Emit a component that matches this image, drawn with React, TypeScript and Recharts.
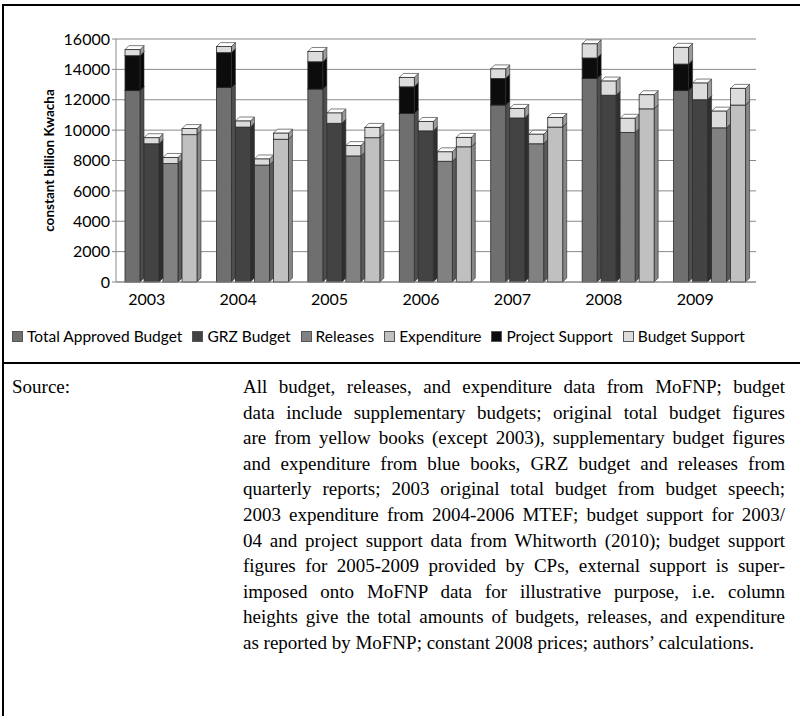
import { BarChart, Bar, XAxis, YAxis, CartesianGrid, Legend } from "recharts"

const years = ["2003", "2004", "2005", "2006", "2007", "2008", "2009"]
const totalApproved = [12600, 12800, 12700, 11100, 11650, 13400, 12600]
const grzBudget = [9100, 10200, 10450, 9950, 10800, 12300, 12000]
const releases = [7800, 7700, 8300, 7950, 9100, 9850, 10150]
const expenditure = [9700, 9400, 9500, 8900, 10200, 11400, 11650]
const projectSupport = [2300, 2300, 1800, 1750, 1750, 1350, 1750]
const budgetSupport = [400, 400, 680, 620, 630, 930, 1100]
const yTicks = [0, 2000, 4000, 6000, 8000, 10000, 12000, 14000, 16000]

const sourceLines = [
  "All budget, releases, and expenditure data from MoFNP; budget",
  "data include supplementary budgets; original total budget figures",
  "are from yellow books (except 2003), supplementary budget figures",
  "and expenditure from blue books, GRZ budget and releases from",
  "quarterly reports; 2003 original total budget from budget speech;",
  "2003 expenditure from 2004-2006 MTEF; budget support for 2003/",
  "04 and project support data from Whitworth (2010); budget support",
  "figures for 2005-2009 provided by CPs, external support is super-",
  "imposed onto MoFNP data for illustrative purpose, i.e. column",
  "heights give the total amounts of budgets, releases, and expenditure",
  "as reported by MoFNP; constant 2008 prices; authors\u2019 calculations.",
]

const COLORS = {
  tab: "#6f6f6f",
  grz: "#434343",
  rel: "#818181",
  exp: "#c0c0c0",
  ps: "#0c0c0c",
  bs: "#dcdcdc",
}

const legendItems = [
  { name: "Total Approved Budget", color: COLORS.tab },
  { name: "GRZ Budget", color: COLORS.grz },
  { name: "Releases", color: COLORS.rel },
  { name: "Expenditure", color: COLORS.exp },
  { name: "Project Support", color: COLORS.ps },
  { name: "Budget Support", color: COLORS.bs },
]

const data = years.map((year, i) => ({
  year,
  tab: totalApproved[i],
  ps: projectSupport[i],
  bsA: budgetSupport[i],
  grz: grzBudget[i],
  bsB: budgetSupport[i],
  rel: releases[i],
  bsC: budgetSupport[i],
  exp: expenditure[i],
  bsD: budgetSupport[i],
}))

const DEPTH = 4

function shade(hex: string, f: number) {
  const n = parseInt(hex.slice(1), 16)
  const c = [(n >> 16) & 255, (n >> 8) & 255, n & 255].map((v) =>
    Math.max(0, Math.min(255, Math.round(v * f)))
  )
  return `rgb(${c[0]},${c[1]},${c[2]})`
}

// fake Excel-style 3D column: front face + top + right side
function Bar3D(props: any) {
  const { x, y, width, height, fill } = props
  if (!height || height <= 0) return null
  const d = DEPTH
  return (
    <g>
      <polygon
        points={`${x + width},${y} ${x + width + d},${y - d} ${x + width + d},${y + height - d} ${x + width},${y + height}`}
        fill={shade(fill, 0.7)}
        stroke="#2b2b2b"
        strokeWidth={0.6}
      />
      <polygon
        points={`${x},${y} ${x + d},${y - d} ${x + width + d},${y - d} ${x + width},${y}`}
        fill={shade(fill, 1.15)}
        stroke="#2b2b2b"
        strokeWidth={0.6}
      />
      <rect x={x} y={y} width={width} height={height} fill={fill} stroke="#2b2b2b" strokeWidth={0.8} />
    </g>
  )
}

function LegendContent() {
  return (
    <div
      style={{
        display: "flex",
        alignItems: "center",
        height: 48,
        paddingLeft: 12,
        fontFamily: "Lato",
        fontSize: 15.5,
        color: "#000",
        whiteSpace: "nowrap",
      }}
    >
      {legendItems.map((item) => (
        <span key={item.name} style={{ display: "flex", alignItems: "center", marginRight: 10 }}>
          <span
            style={{
              display: "inline-block",
              width: 9,
              height: 9,
              background: item.color,
              border: "1px solid #555",
              marginRight: 4,
            }}
          />
          {item.name}
        </span>
      ))}
    </div>
  )
}

function YLabel(props: any) {
  const { viewBox } = props
  const cy = viewBox.y + viewBox.height / 2
  return (
    <text
      x={49}
      y={cy}
      transform={`rotate(-90, 49, ${cy})`}
      textAnchor="middle"
      dominantBaseline="central"
      fontFamily="Lato"
      fontWeight="bold"
      fontSize={13.5}
      fill="#000"
    >
      constant billion Kwacha
    </text>
  )
}

export default function App() {
  return (
    <div style={{ position: "absolute", left: 0, top: 0, width: 800, height: 716, background: "#fff" }}>
      <div style={{ position: "absolute", left: 2, top: 4, width: 798, height: 2, background: "#000" }} />
      <div style={{ position: "absolute", left: 2, top: 4, width: 2, height: 712, background: "#000" }} />
      <div style={{ position: "absolute", left: 2, top: 362, width: 798, height: 2, background: "#000" }} />

      <div style={{ position: "absolute", left: 0, top: 0 }}>
        <BarChart
          width={800}
          height={360}
          data={data}
          margin={{ top: 39, right: 44, left: 0, bottom: 0 }}
          barCategoryGap={9}
          barGap={4}
          style={{ fontFamily: "Lato" }}
        >
          <CartesianGrid vertical={false} stroke="#8a8a8a" />
          <XAxis
            dataKey="year"
            height={30}
            tickLine={false}
            axisLine={{ stroke: "#8a8a8a" }}
            tick={{ fontSize: 16, fill: "#000", dx: -15 }}
            tickMargin={6}
          />
          <YAxis
            width={116}
            domain={[0, 16000]}
            ticks={yTicks}
            interval={0}
            tickSize={4}
            tickMargin={2}
            axisLine={{ stroke: "#8a8a8a" }}
            tickLine={{ stroke: "#8a8a8a" }}
            tick={{ fontSize: 16, fill: "#000" }}
            label={<YLabel />}
          />
          <Legend verticalAlign="bottom" height={48} content={<LegendContent />} wrapperStyle={{ left: 0, width: 800 }} />
          <Bar dataKey="tab" stackId="a" fill={COLORS.tab} shape={<Bar3D />} isAnimationActive={false} />
          <Bar dataKey="ps" stackId="a" fill={COLORS.ps} shape={<Bar3D />} isAnimationActive={false} />
          <Bar dataKey="bsA" stackId="a" fill={COLORS.bs} shape={<Bar3D />} isAnimationActive={false} />
          <Bar dataKey="grz" stackId="b" fill={COLORS.grz} shape={<Bar3D />} isAnimationActive={false} />
          <Bar dataKey="bsB" stackId="b" fill={COLORS.bs} shape={<Bar3D />} isAnimationActive={false} />
          <Bar dataKey="rel" stackId="c" fill={COLORS.rel} shape={<Bar3D />} isAnimationActive={false} />
          <Bar dataKey="bsC" stackId="c" fill={COLORS.bs} shape={<Bar3D />} isAnimationActive={false} />
          <Bar dataKey="exp" stackId="d" fill={COLORS.exp} shape={<Bar3D />} isAnimationActive={false} />
          <Bar dataKey="bsD" stackId="d" fill={COLORS.bs} shape={<Bar3D />} isAnimationActive={false} />
        </BarChart>
      </div>

      <div
        style={{
          position: "absolute",
          left: 12,
          top: 374,
          fontFamily: "'Liberation Serif', serif",
          fontSize: 19,
          lineHeight: "25.6px",
          color: "#000",
        }}
      >
        Source:
      </div>
      <div
        style={{
          position: "absolute",
          left: 243,
          top: 374,
          width: 542,
          fontFamily: "'Liberation Serif', serif",
          fontSize: 19,
          lineHeight: "25.6px",
          color: "#000",
        }}
      >
        {sourceLines.map((line, i) => (
          <div
            key={i}
            style={{
              textAlign: i === sourceLines.length - 1 ? "left" : "justify",
              textAlignLast: i === sourceLines.length - 1 ? "left" : "justify",
              whiteSpace: "nowrap",
            }}
          >
            {line}
          </div>
        ))}
      </div>
    </div>
  )
}
